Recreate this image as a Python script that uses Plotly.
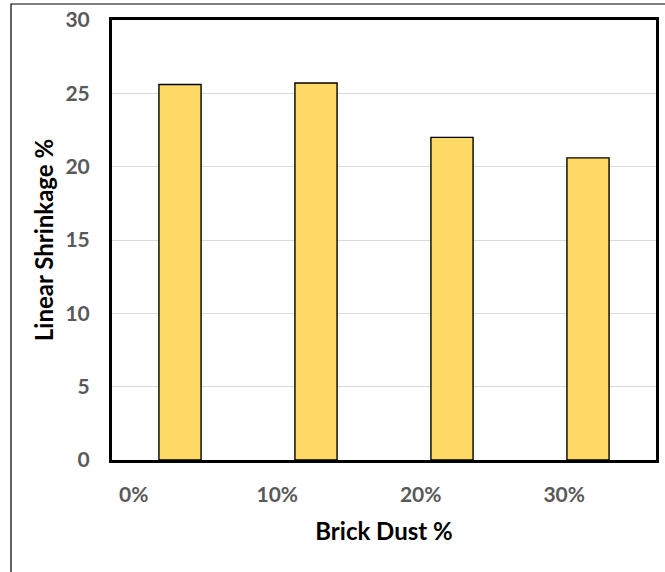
import plotly.graph_objects as go

# ---- data ----
categories = ["0%", "10%", "20%", "30%"]
shrinkage = [25.6, 25.7, 22.0, 20.6]
y_ticks = [0, 5, 10, 15, 20, 25, 30]

W, H = 665, 572
L, R, T, B = 112, 9, 20, 112

idx = list(range(len(categories)))
# tick labels sit left of the bars in the original
label_pos = [-0.34 + 1.055 * i for i in idx]

fig = go.Figure()
fig.add_trace(go.Bar(
    x=idx, y=shrinkage, width=0.31,
    marker=dict(color="#FFD966", line=dict(color="#000000", width=1.4)),
    hoverinfo="y",
))

FONT = "Lato, 'Open Sans', sans-serif"
fig.update_layout(
    width=W, height=H,
    margin=dict(l=L, r=R, t=T, b=B, pad=0, autoexpand=False),
    paper_bgcolor="white", plot_bgcolor="white",
    showlegend=False,
    font=dict(family=FONT),
    xaxis=dict(
        range=[-0.5, 3.5], automargin=False,
        tickmode="array", tickvals=label_pos, ticktext=categories,
        ticks="", showgrid=False, zeroline=False,
        showline=True, linecolor="black", linewidth=3, mirror=True,
        tickfont=dict(family=FONT, size=21, color="#595959", weight="bold"),
        ticklabelstandoff=14,
        title=dict(text="<b>Brick Dust %</b>", font=dict(family=FONT, size=24, color="black"), standoff=18),
    ),
    yaxis=dict(
        range=[0, 30], tickmode="array", tickvals=y_ticks, automargin=False,
        ticks="", showgrid=True, gridcolor="#D9D9D9", gridwidth=1,
        zeroline=False,
        showline=True, linecolor="black", linewidth=3, mirror=True,
        tickfont=dict(family=FONT, size=21, color="#595959", weight="bold"),
        ticklabelstandoff=15,
        title=dict(text="<b>Linear Shrinkage %</b>", font=dict(family=FONT, size=24, color="black"), standoff=6),
    ),
)

# outer chart frame (extends beyond the visible window at right/bottom)
fx0 = (11 - L) / (W - L - R)
fy1 = 1 + (T - 4) / (H - T - B)
fig.add_shape(type="rect", xref="paper", yref="paper",
              x0=fx0, x1=1.5, y0=-1.0, y1=fy1,
              line=dict(color="black", width=1.2), fillcolor="rgba(0,0,0,0)", layer="below")

fig.write_html("out.html", config={"displayModeBar": False},
               post_script="document.body.style.margin='0px';")
